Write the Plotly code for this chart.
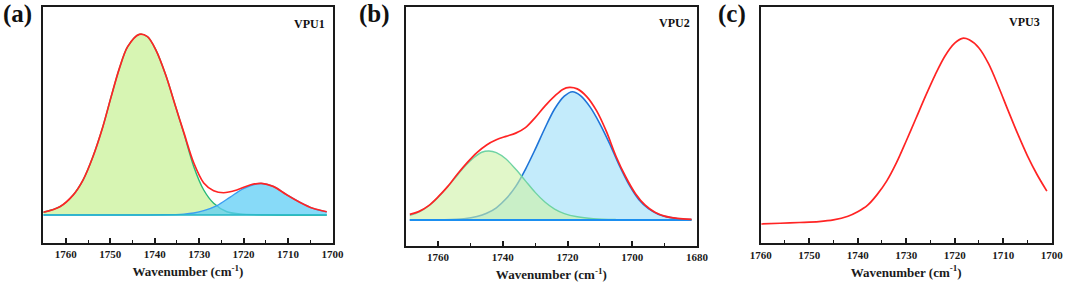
import plotly.graph_objects as go

# ---------------- data ----------------
# Panel (a) VPU1 : cumulative fit (red), band 1 (green), band 2 (blue)
a_wn_sum = [1765.07, 1761.34, 1758.37, 1756.14, 1753.91, 1751.67, 1749.80, 1747.95, 1746.09, 1743.48,
            1741.63, 1739.75, 1737.52, 1735.29, 1733.44, 1731.21, 1728.97, 1726.74, 1724.51, 1721.54,
            1718.55, 1715.96, 1713.35, 1710.38, 1707.39, 1704.42, 1701.29]
a_sum = [0.015, 0.046, 0.110, 0.193, 0.322, 0.488, 0.654, 0.810, 0.930, 0.998,
         0.985, 0.912, 0.773, 0.598, 0.455, 0.287, 0.177, 0.134, 0.123, 0.138,
         0.166, 0.175, 0.158, 0.113, 0.071, 0.037, 0.018]
a_wn_p1 = [1765.07, 1761.34, 1758.37, 1756.14, 1753.91, 1751.67, 1749.80, 1747.95, 1746.09, 1743.48,
           1741.63, 1739.75, 1737.52, 1735.29, 1733.44, 1731.21, 1728.97, 1726.74, 1723.77, 1720.78,
           1715.0, 1708.0, 1701.29]
a_p1 = [0.015, 0.046, 0.110, 0.193, 0.322, 0.488, 0.654, 0.810, 0.930, 0.998,
        0.985, 0.912, 0.773, 0.598, 0.451, 0.267, 0.138, 0.065, 0.018, 0.006,
        0.001, 0.0, 0.0]
a_wn_p2 = [1765.07, 1745.0, 1738.0, 1733.44, 1731.21, 1728.97, 1726.0, 1723.01, 1720.04, 1716.32,
           1713.35, 1710.38, 1707.39, 1704.42, 1701.29]
a_p2 = [0.0, 0.0, 0.001, 0.005, 0.011, 0.024, 0.052, 0.099, 0.146, 0.174,
        0.158, 0.113, 0.071, 0.037, 0.017]

# Panel (b) VPU2
b_wn_sum = [1768.73, 1766.0, 1763.0, 1760.0, 1757.0, 1754.0, 1751.0, 1748.0, 1745.0, 1742.0,
            1739.0, 1736.0, 1733.0, 1730.0, 1727.0, 1724.0, 1721.5, 1719.4, 1717.0, 1714.0,
            1711.0, 1708.0, 1705.0, 1702.0, 1699.0, 1696.0, 1693.0, 1690.0, 1686.0, 1681.7]
b_sum = [0.044, 0.065, 0.110, 0.180, 0.262, 0.358, 0.447, 0.525, 0.585, 0.625,
         0.652, 0.677, 0.720, 0.798, 0.888, 0.965, 1.018, 1.034, 1.022, 0.960,
         0.850, 0.690, 0.495, 0.335, 0.205, 0.115, 0.060, 0.030, 0.012, 0.005]
b_wn_p1 = [1768.73, 1767.0, 1764.0, 1761.0, 1758.0, 1755.0, 1752.0, 1749.0, 1746.5, 1744.3,
           1742.0, 1739.0, 1736.0, 1733.0, 1730.0, 1727.0, 1724.0, 1721.0, 1717.0, 1712.0,
           1705.0, 1695.0, 1681.7]
b_p1 = [0.036, 0.049, 0.090, 0.150, 0.231, 0.320, 0.410, 0.485, 0.528, 0.538,
        0.525, 0.475, 0.395, 0.305, 0.215, 0.140, 0.085, 0.050, 0.025, 0.010,
        0.003, 0.0, 0.0]
b_wn_p2 = [1768.73, 1758.0, 1752.0, 1748.0, 1745.0, 1742.0, 1739.0, 1736.0, 1733.0, 1730.0,
           1727.0, 1724.0, 1721.0, 1718.5, 1716.0, 1713.0, 1710.0, 1707.0, 1704.0, 1701.0,
           1698.0, 1695.0, 1692.0, 1689.0, 1686.0, 1681.7]
b_p2 = [0.0, 0.002, 0.010, 0.027, 0.052, 0.095, 0.165, 0.262, 0.395, 0.550,
        0.715, 0.865, 0.965, 1.0, 0.970, 0.880, 0.750, 0.595, 0.425, 0.275,
        0.160, 0.088, 0.045, 0.022, 0.010, 0.004]

# Panel (c) VPU3
c_wn = [1759.86, 1756.0, 1752.0, 1748.0, 1745.0, 1742.0, 1740.0, 1738.0, 1736.0, 1734.0,
        1732.0, 1730.0, 1728.0, 1726.0, 1724.0, 1722.0, 1720.0, 1718.4, 1717.0, 1715.0,
        1713.0, 1711.0, 1709.0, 1707.0, 1705.0, 1703.0, 1701.0]
c_sum = [0.0, 0.004, 0.008, 0.013, 0.022, 0.042, 0.066, 0.100, 0.158, 0.232,
         0.330, 0.447, 0.568, 0.690, 0.805, 0.905, 0.974, 1.0, 0.992, 0.948,
         0.862, 0.742, 0.612, 0.485, 0.367, 0.265, 0.177]

panel_labels = ["(a)", "(b)", "(c)"]
sample_names = ["VPU1", "VPU2", "VPU3"]
x_title = "Wavenumber (cm<sup>-1</sup>)"

# ---------------- styling ----------------
W, H = 1065, 286
SERIF = "Liberation Serif"
RED = "#ff2424"
INK = "#1a1a1a"

fig = go.Figure()

def spl(x, y, xa, ya, color, width, fill=None, fillcolor=None):
    fig.add_trace(go.Scatter(
        x=x, y=y, xaxis=xa, yaxis=ya, mode="lines",
        line=dict(color=color, width=width, shape="spline", smoothing=0.9),
        fill=fill, fillcolor=fillcolor, showlegend=False, hoverinfo="skip"))

# Panel a
spl(a_wn_p1, a_p1, "x", "y", "#27b877", 1.4, "tozeroy", "rgba(205,242,160,0.8)")
spl(a_wn_p2, a_p2, "x", "y", "#3a9ef2", 1.4, "tozeroy", "rgba(95,205,245,0.75)")
spl([a_wn_sum[0], a_wn_sum[-1]], [0, 0], "x", "y", "#20b4c4", 1.6)
spl(a_wn_sum, a_sum, "x", "y", RED, 1.7)

# Panel b
spl(b_wn_p2, b_p2, "x2", "y2", "#1e74d8", 1.6, "tozeroy", "rgba(185,232,250,0.85)")
spl(b_wn_p1, b_p1, "x2", "y2", "#6fd3a3", 1.4, "tozeroy", "rgba(205,242,165,0.6)")
spl([b_wn_sum[0], b_wn_sum[-1]], [0, 0], "x2", "y2", "#1b8ff0", 2.0)
spl(b_wn_sum, b_sum, "x2", "y2", RED, 1.7)

# Panel c
spl(c_wn, c_sum, "x3", "y3", RED, 1.7)

def px_dom(a, b, total):
    return [a / total, b / total]

domains = {
    "a": dict(x=px_dom(43.3, 332.5, W), y=[(H - 242.7) / H, (H - 7) / H]),
    "b": dict(x=px_dom(405.7, 697.0, W), y=[(H - 246.0) / H, (H - 7.3) / H]),
    "c": dict(x=px_dom(760.7, 1051.7, W), y=[(H - 243.3) / H, (H - 7.3) / H]),
}

def xaxis(dom, rng, dtick, mdtick, anchor):
    return dict(
        domain=dom, range=rng, anchor=anchor, automargin=False,
        tickmode="linear", tick0=1700, dtick=dtick,
        ticks="inside", ticklen=5, tickwidth=1.5, tickcolor=INK,
        minor=dict(ticks="inside", ticklen=3, tickwidth=1.3, dtick=mdtick, tick0=1700, tickcolor=INK),
        showline=True, mirror=True, linewidth=2, linecolor=INK,
        showgrid=False, zeroline=False,
        tickfont=dict(family=SERIF, size=11, color=INK, weight="bold"),
        title=dict(text=x_title, font=dict(family=SERIF, size=13, color=INK, weight="bold"), standoff=8),
    )

def yaxis(dom, rng, anchor):
    return dict(
        domain=dom, range=rng, anchor=anchor, automargin=False,
        showticklabels=False, ticks="", showgrid=False, zeroline=False,
        showline=True, mirror=True, linewidth=2, linecolor=INK,
    )

fig.update_layout(
    template="none",
    width=W, height=H,
    margin=dict(l=0, r=0, t=0, b=0, pad=0),
    paper_bgcolor="white", plot_bgcolor="white",
    showlegend=False,
    xaxis=xaxis(domains["a"]["x"], [1765.07, 1700], 10, 5, "y"),
    yaxis=yaxis(domains["a"]["y"], [-0.153, 1.149], "x"),
    xaxis2=xaxis(domains["b"]["x"], [1770, 1680], 20, 10, "y2"),
    yaxis2=yaxis(domains["b"]["y"], [-0.203, 1.658], "x2"),
    xaxis3=xaxis(domains["c"]["x"], [1760, 1700], 10, 5, "y3"),
    yaxis3=yaxis(domains["c"]["y"], [-0.104, 1.167], "x3"),
)

label_pos = [(17.5, 14), (374.5, 14), (732, 14)]
for (lx, ly), t in zip(label_pos, panel_labels):
    fig.add_annotation(text=t, x=lx / W, y=1 - ly / H, xref="paper", yref="paper",
                       showarrow=False, xanchor="center", yanchor="middle",
                       font=dict(family=SERIF, size=25, color="#111", weight="bold"))

name_pos = [(327, 24), (692, 23.3), (1042, 21.7)]
for (nx, ny), t in zip(name_pos, sample_names):
    fig.add_annotation(text=t, x=nx / W, y=1 - ny / H, xref="paper", yref="paper",
                       showarrow=False, xanchor="right", yanchor="middle",
                       font=dict(family=SERIF, size=12, color="#111", weight="bold"))

# remove the browser's default 8px page margin so the figure sits at the window origin
fig.write_html("out.html", config={"displayModeBar": False},
               post_script="document.body.style.margin='0px';")
